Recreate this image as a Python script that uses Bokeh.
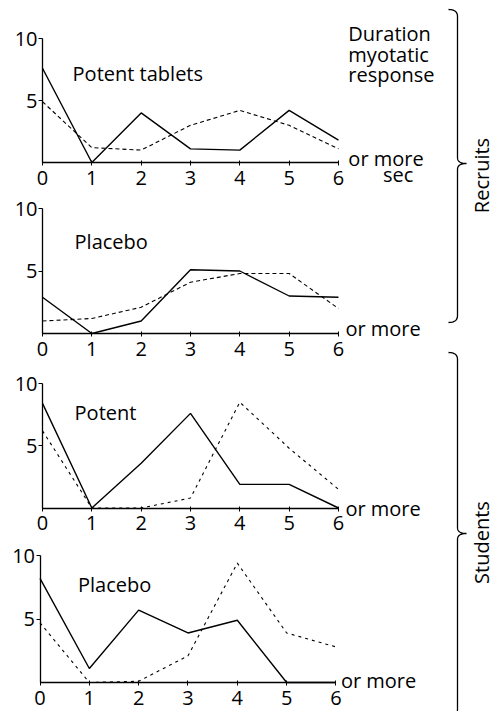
import math
import numpy as np
from bokeh.plotting import figure
from bokeh.layouts import column, row
from bokeh.models import Range1d, Label, FixedTicker
from bokeh.embed import file_html
from bokeh.resources import INLINE

# ---------------- data ----------------
duration_sec = [0, 1, 2, 3, 4, 5, 6]
x_ticks = [0, 1, 2, 3, 4, 5, 6]
y_ticks = [5, 10]

recruits_potent_solid = [7.6, 0.0, 4.0, 1.1, 1.0, 4.2, 1.8]
recruits_potent_dashed = [4.9, 1.2, 1.0, 3.0, 4.2, 3.0, 1.1]
recruits_placebo_solid = [2.9, 0.0, 1.0, 5.1, 5.0, 3.0, 2.9]
recruits_placebo_dashed = [1.0, 1.2, 2.1, 4.1, 4.8, 4.8, 2.0]
students_potent_solid = [8.4, 0.0, 3.6, 7.6, 1.9, 1.9, 0.0]
students_potent_dashed = [6.2, 0.0, 0.0, 0.8, 8.5, 4.8, 1.5]
students_placebo_solid = [8.2, 1.1, 5.7, 3.9, 4.9, 0.0, 0.0]
students_placebo_dashed = [4.7, 0.0, 0.1, 2.1, 9.4, 3.9, 2.8]

panel_titles = ["Potent tablets", "Placebo", "Potent", "Placebo"]
group_names = ["Recruits", "Students"]
side_title = ["Duration", "myotatic", "response"]
more_text = "or more"
unit_text = "sec"

# ---------------- styling / layout ----------------
FONT = "Open Sans"
FS = "20px"
LEFT_W = 444
RIGHT_W = 48
PX_PER_SEC = 49.33


def make_panel(solid, dashed, top, bottom, zero_y, zero_x, px_per_unit, dash):
    height = bottom - top
    p = figure(width=LEFT_W, height=height, output_backend="svg", toolbar_location=None,
               x_range=Range1d(-zero_x / PX_PER_SEC, (LEFT_W - zero_x) / PX_PER_SEC),
               y_range=Range1d((zero_y - bottom) / px_per_unit, (zero_y - top) / px_per_unit),
               min_border=0)
    p.outline_line_color = None
    p.grid.visible = False
    p.background_fill_color = "white"
    p.border_fill_color = "white"
    p.line(duration_sec, solid, line_color="black", line_width=1.4)
    p.line(duration_sec, dashed, line_color="black", line_width=1.1, line_dash=dash)

    xa = p.xaxis[0]
    xa.fixed_location = 0
    xa.ticker = FixedTicker(ticks=x_ticks)
    xa.bounds = (0, 6)
    xa.major_tick_in = 2
    xa.major_tick_out = 3
    xa.major_label_standoff = 5
    ya = p.yaxis[0]
    ya.fixed_location = 0
    ya.ticker = FixedTicker(ticks=y_ticks)
    ya.bounds = (0, 10)
    ya.major_tick_in = 0
    ya.major_tick_out = 4
    ya.major_label_standoff = 1
    for ax in (xa, ya):
        ax.minor_tick_in = 0
        ax.minor_tick_out = 0
        ax.axis_line_color = "black"
        ax.axis_line_width = 1.3
        ax.major_tick_line_color = "black"
        ax.major_label_text_font = FONT
        ax.major_label_text_font_size = FS
        ax.major_label_text_color = "black"
    return p


def add_label(p, x, y, text, **kw):
    p.add_layout(Label(x=x, y=y, text=text, text_font=FONT, text_font_size=FS,
                       text_color="black", text_baseline="alphabetic", **kw))


p1 = make_panel(recruits_potent_solid, recruits_potent_dashed, 0, 190, 162, 42, 12.4, "4 3")
add_label(p1, 0.61, 7.18, panel_titles[0])
for txt, yy in zip(side_title, [10.41, 8.71, 7.10]):
    add_label(p1, 6.2, yy, txt)
add_label(p1, 6.2, 0.33, more_text)
add_label(p1, 6.9, -0.96, unit_text)

p2 = make_panel(recruits_placebo_solid, recruits_placebo_dashed, 190, 358, 333, 42, 12.5, "4 3")
add_label(p2, 0.65, 7.36, panel_titles[1])
add_label(p2, 6.14, 0.40, more_text)

p3 = make_panel(students_potent_solid, students_potent_dashed, 358, 532, 507.5, 42, 12.45, "3 4")
add_label(p3, 0.65, 7.64, panel_titles[2])
add_label(p3, 6.14, 0.0, more_text)

p4 = make_panel(students_placebo_solid, students_placebo_dashed, 532, 711, 682, 39.5, 12.7, "3 4")
add_label(p4, 0.77, 7.73, panel_titles[3])
add_label(p4, 6.1, 0.16, more_text)

# ---------------- right strip with braces (screen-like coords, y negative downward) ----------------
TOTAL_H = 711
pr = figure(width=RIGHT_W, height=TOTAL_H, output_backend="svg", toolbar_location=None,
            x_range=Range1d(LEFT_W, LEFT_W + RIGHT_W), y_range=Range1d(-TOTAL_H, 0),
            min_border=0)
pr.axis.visible = False
pr.grid.visible = False
pr.outline_line_color = None
pr.background_fill_color = "white"
pr.border_fill_color = "white"


def quad(p0, c, p1, n=14):
    t = np.linspace(0, 1, n)
    xs = (1 - t) ** 2 * p0[0] + 2 * (1 - t) * t * c[0] + t ** 2 * p1[0]
    ys = (1 - t) ** 2 * p0[1] + 2 * (1 - t) * t * c[1] + t ** 2 * p1[1]
    return list(xs), list(ys)


def brace(top, mid, bottom, xh=448, xl=457, xt=466):
    xs, ys = [], []
    for seg in (quad((xh, top), (xl, top), (xl, top + 7)),
                quad((xl, mid - 6), (xl, mid), (xt, mid)),
                quad((xt, mid), (xl, mid), (xl, mid + 6)),
                quad((xl, bottom - 7), (xl, bottom), (xh, bottom))):
        xs += seg[0]
        ys += seg[1]
    pr.line(xs, [-v for v in ys], line_color="black", line_width=1.3)


brace(9, 163, 322)
brace(352, 533, 716)
for name, yc in zip(group_names, [175, 542]):
    pr.add_layout(Label(x=481, y=-yc, text=name, angle=math.pi / 2, text_font=FONT,
                        text_font_size=FS, text_color="black",
                        text_align="center", text_baseline="middle"))

layout = row(column(p1, p2, p3, p4), pr)
open("out.html", "w").write(file_html(layout, INLINE))
